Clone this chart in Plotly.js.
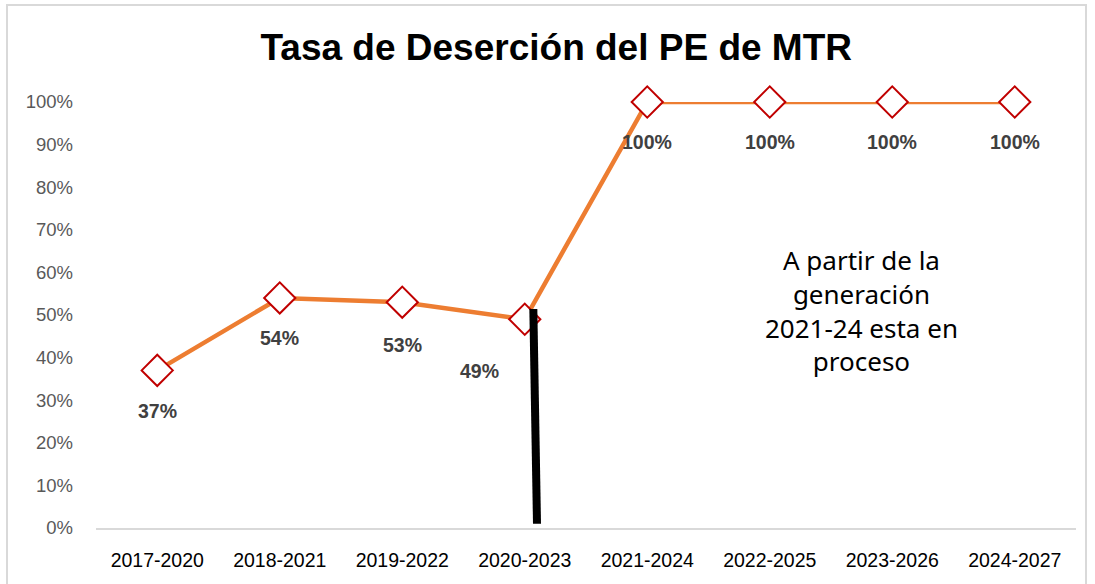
<!DOCTYPE html>
<html>
<head>
<meta charset="utf-8">
<script src="https://cdn.plot.ly/plotly-3.0.1.min.js"></script>
<style>
html,body{margin:0;padding:0;background:#fff;}
#chart{width:1095px;height:584px;}
</style>
</head>
<body>
<div id="chart"></div>
<script>
// Data
const categories = ["2017-2020","2018-2021","2019-2022","2020-2023","2021-2024","2022-2025","2023-2026","2024-2027"];
const desercion = [0.37, 0.54, 0.53, 0.49, 1.00, 1.00, 1.00, 1.00];
const labels = ["37%","54%","53%","49%","100%","100%","100%","100%"];
const yTickVals = [0,0.1,0.2,0.3,0.4,0.5,0.6,0.7,0.8,0.9,1.0];
const yTickText = ["0%","10%","20%","30%","40%","50%","60%","70%","80%","90%","100%"];
const noteText = "A partir de la<br>generación<br>2021-24 esta en<br>proceso";
const titleText = "Tasa de Deserción del PE de MTR";

const labelShiftX = [0,0,0,-45,0,0,0,0];
const labelShiftY = [-41,-40,-43,-52,-40,-40,-40,-40];
const sans = 'Liberation Sans, Arial, sans-serif';

const trace = {
  x: categories,
  y: desercion,
  type: 'scatter',
  mode: 'lines+markers',
  line: {color: '#ED7D31', width: 4.5},
  marker: {symbol: 'diamond', size: 24, color: '#FFFFFF', line: {color: '#C00000', width: 2}},
  cliponaxis: false,
  hoverinfo: 'skip'
};

const annotations = categories.map((c, i) => ({
  x: c, y: desercion[i], xref: 'x', yref: 'y',
  text: labels[i], showarrow: false,
  xshift: labelShiftX[i], yshift: labelShiftY[i],
  font: {family: sans, size: 19.5, color: '#404040', weight: 'bold'}
}));
annotations.push({
  x: 5.75, y: 0.51, xref: 'x', yref: 'y', text: noteText, showarrow: false,
  font: {family: 'Noto Sans, sans-serif', size: 26, color: '#000000'},
  align: 'center', yanchor: 'middle'
});

const layout = {
  width: 1095, height: 584,
  margin: {l: 96, r: 19, t: 102, b: 56},
  paper_bgcolor: '#FFFFFF', plot_bgcolor: '#FFFFFF',
  showlegend: false,
  title: {text: titleText, x: 0.508, xanchor: 'center', y: 0.92, yanchor: 'middle',
    font: {family: sans, size: 37, color: '#000000', weight: 'bold'}},
  xaxis: {
    type: 'category', range: [-0.5, 7.5], showgrid: false, zeroline: false,
    showline: true, linecolor: '#D9D9D9', linewidth: 1.5, ticks: '',
    ticklabelstandoff: 14,
    tickfont: {family: sans, size: 19.5, color: '#000000'}
  },
  yaxis: {
    range: [0, 1], showgrid: false, zeroline: false, showline: false, ticks: '',
    tickvals: yTickVals, ticktext: yTickText, ticklabelstandoff: 22,
    tickfont: {family: sans, size: 18.5, color: '#595959'}
  },
  shapes: [
    {type: 'line', xref: 'x', yref: 'y', x0: 3.07, y0: 0.514, x1: 3.1, y1: 0.01,
     line: {color: '#000000', width: 8}, layer: 'above'},
    {type: 'rect', xref: 'paper', yref: 'paper', x0: -0.0908, x1: 1.0102, y0: -0.16, y1: 1.2277,
     line: {color: '#D9D9D9', width: 2}, fillcolor: 'rgba(0,0,0,0)', layer: 'below'}
  ],
  annotations: annotations
};

Plotly.newPlot('chart', [trace], layout, {displayModeBar: false, staticPlot: true});
</script>
</body>
</html>
